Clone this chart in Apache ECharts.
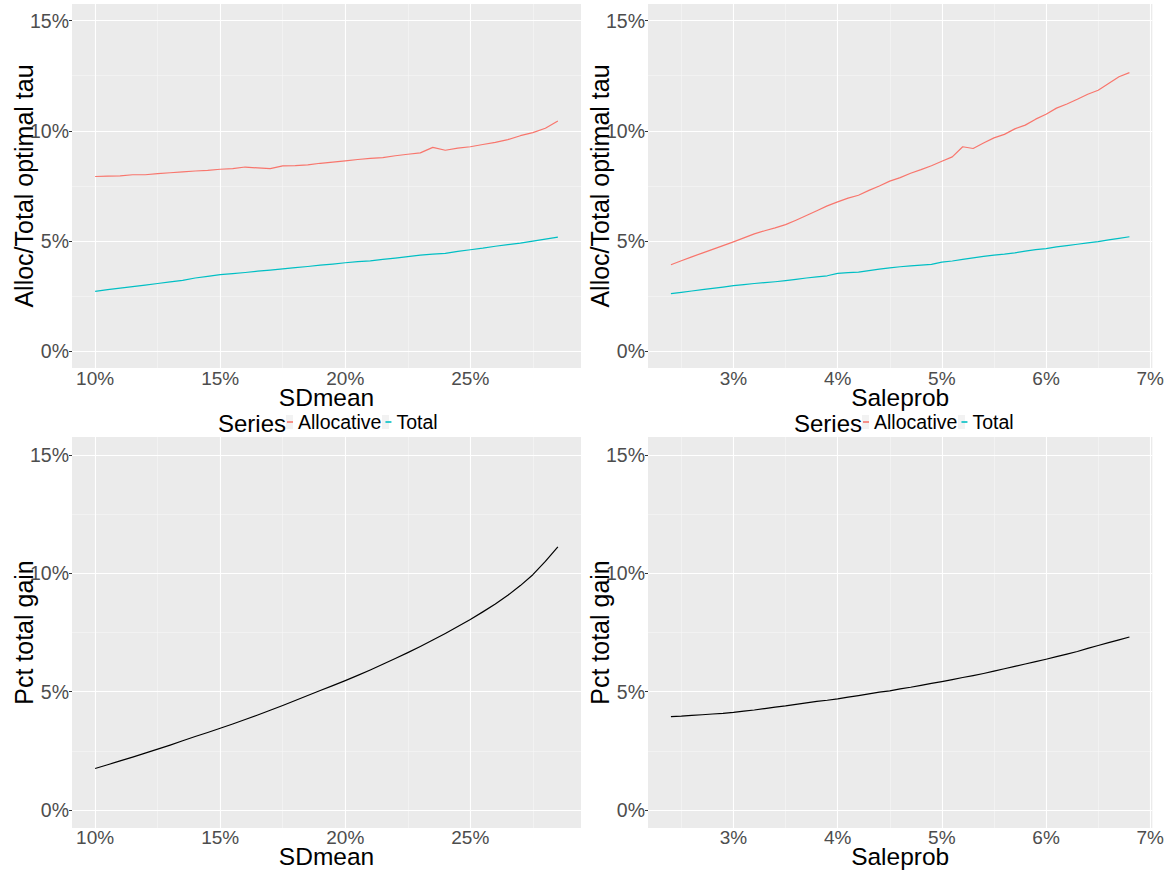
<!DOCTYPE html>
<html>
<head>
<meta charset="utf-8">
<script src="https://cdn.jsdelivr.net/npm/echarts@6/dist/echarts.min.js"></script>
<style>
html,body{margin:0;padding:0;background:#fff;}
#chart{width:1167px;height:871px;}
</style>
</head>
<body>
<div id="chart"></div>
<script>
// ---------- data (values in percent) ----------
const sdX = [10,10.5,11,11.5,12,12.5,13,13.5,14,14.5,15,15.5,16,16.5,17,17.5,18,18.5,19,19.5,20,20.5,21,21.5,22,22.5,23,23.5,24,24.5,25,25.5,26,26.5,27,27.5,28,28.5];
const sdAlloc = [7.93,7.95,7.96,8.01,8.01,8.06,8.10,8.14,8.18,8.21,8.26,8.29,8.36,8.32,8.29,8.41,8.42,8.46,8.53,8.58,8.64,8.70,8.75,8.79,8.87,8.94,9.00,9.25,9.12,9.22,9.28,9.38,9.48,9.60,9.78,9.92,10.12,10.45];
const sdTotal = [2.72,2.80,2.87,2.94,3.01,3.08,3.15,3.22,3.33,3.40,3.48,3.53,3.58,3.64,3.69,3.74,3.80,3.85,3.91,3.96,4.02,4.07,4.11,4.17,4.23,4.30,4.37,4.41,4.45,4.54,4.61,4.68,4.77,4.84,4.91,5.00,5.09,5.18];
const sdGain = [1.76,1.92,2.08,2.24,2.41,2.58,2.75,2.93,3.11,3.28,3.46,3.64,3.83,4.02,4.22,4.42,4.63,4.84,5.05,5.26,5.47,5.69,5.92,6.16,6.40,6.65,6.91,7.18,7.46,7.75,8.05,8.37,8.70,9.07,9.48,9.94,10.50,11.11];

const spX = [2.4,2.5,2.6,2.7,2.8,2.9,3.0,3.1,3.2,3.3,3.4,3.5,3.6,3.7,3.8,3.9,4.0,4.1,4.2,4.3,4.4,4.5,4.6,4.7,4.8,4.9,5.0,5.1,5.2,5.3,5.4,5.5,5.6,5.7,5.8,5.9,6.0,6.1,6.2,6.3,6.4,6.5,6.6,6.7,6.8];
const spAlloc = [3.93,4.11,4.29,4.46,4.63,4.80,4.97,5.15,5.33,5.47,5.60,5.75,5.95,6.16,6.38,6.60,6.78,6.95,7.08,7.30,7.50,7.72,7.88,8.08,8.24,8.42,8.62,8.82,9.28,9.20,9.45,9.68,9.84,10.09,10.26,10.53,10.75,11.03,11.22,11.43,11.66,11.84,12.15,12.45,12.64];
const spTotal = [2.62,2.68,2.74,2.80,2.86,2.92,2.98,3.03,3.08,3.12,3.16,3.21,3.27,3.33,3.38,3.43,3.54,3.57,3.60,3.66,3.73,3.79,3.84,3.88,3.91,3.95,4.05,4.10,4.17,4.24,4.31,4.37,4.41,4.47,4.55,4.62,4.66,4.74,4.80,4.86,4.92,4.98,5.06,5.13,5.20];
const spGain = [3.95,3.97,4.00,4.03,4.06,4.09,4.13,4.18,4.23,4.29,4.35,4.40,4.47,4.53,4.59,4.64,4.70,4.77,4.84,4.91,4.98,5.04,5.12,5.19,5.27,5.35,5.43,5.51,5.60,5.68,5.77,5.87,5.97,6.07,6.17,6.27,6.37,6.48,6.59,6.70,6.83,6.95,7.07,7.19,7.31];

const sdTicks = [10,15,20,25];
const sdMinor = [12.5,17.5,22.5,27.5];
const spTicks = [3,4,5,6,7];
const spMinor = [2.5,3.5,4.5,5.5,6.5];
const yTicks = [0,5,10,15];
const yMinor = [2.5,7.5,12.5];
const yLimits = [0,15];

const seriesNames = ['Allocative','Total'];
const seriesColors = ['#F8766D','#00BFC4'];

// ---------- helpers ----------
const FONT = '"Liberation Sans", Arial, Helvetica, sans-serif';
function expand(lo, hi){ const d=(hi-lo)*0.05; return [lo-d, hi+d]; }
const sdLim = expand(Math.min(...sdX), Math.max(...sdX));
const spLim = expand(Math.min(...spX), Math.max(...spX));
const yLim = expand(yLimits[0], yLimits[1]);
const pairs = (xs, ys) => xs.map((x,i)=>[x, ys[i]]);

const panels = [
  {left:72, top:4, height:364, xLim:sdLim, xt:sdTicks, xm:sdMinor, xname:'SDmean', yname:'Alloc/Total optimal tau', xnameGap:20.5, labMargin:3},
  {left:648, top:4, height:364, xLim:spLim, xt:spTicks, xm:spMinor, xname:'Saleprob', yname:'Alloc/Total optimal tau', xnameGap:20.5, labMargin:3},
  {left:72, top:437, height:391, xLim:sdLim, xt:sdTicks, xm:sdMinor, xname:'SDmean', yname:'Pct total gain', xnameGap:19, labMargin:2},
  {left:648, top:437, height:391, xLim:spLim, xt:spTicks, xm:spMinor, xname:'Saleprob', yname:'Pct total gain', xnameGap:19, labMargin:2}
];

const grid=[], xAxis=[], yAxis=[], series=[];
panels.forEach((p,i)=>{
  grid.push({left:p.left, top:p.top, width:509, height:p.height, show:true, backgroundColor:'#EBEBEB', borderWidth:0, containLabel:false});
  xAxis.push({
    type:'value', gridIndex:i, min:p.xLim[0], max:p.xLim[1],
    axisLine:{show:false}, splitLine:{show:false},
    axisTick:{show:true, length:3, lineStyle:{color:'#333333', width:1}, customValues:p.xt},
    axisLabel:{customValues:p.xt, formatter:v=>v+'%', color:'#4D4D4D', fontSize:19, lineHeight:14, fontFamily:FONT, margin:p.labMargin},
    name:p.xname, nameLocation:'middle', nameGap:p.xnameGap, nameMoveOverlap:false,
    nameTextStyle:{color:'#000', fontSize:24.5, lineHeight:18, fontFamily:FONT}
  });
  yAxis.push({
    type:'value', gridIndex:i, min:yLim[0], max:yLim[1],
    axisLine:{show:false}, splitLine:{show:false},
    axisTick:{show:true, length:3, lineStyle:{color:'#333333', width:1}, customValues:yTicks},
    axisLabel:{customValues:yTicks, formatter:v=>v+'%', color:'#4D4D4D', fontSize:19.5, fontFamily:FONT, margin:3},
    name:p.yname, nameLocation:'middle', nameGap:36, nameMoveOverlap:false,
    nameTextStyle:{color:'#000', fontSize:25, lineHeight:25, fontFamily:FONT}
  });
  const gl = [];
  p.xm.forEach(v=>gl.push({xAxis:v, lineStyle:{color:'#F6F6F6', width:0.6, type:'solid'}}));
  yMinor.forEach(v=>gl.push({yAxis:v, lineStyle:{color:'#F6F6F6', width:0.6, type:'solid'}}));
  p.xt.forEach(v=>gl.push({xAxis:v, lineStyle:{color:'#FFFFFF', width:1.1, type:'solid'}}));
  yTicks.forEach(v=>gl.push({yAxis:v, lineStyle:{color:'#FFFFFF', width:1.1, type:'solid'}}));
  series.push({
    type:'line', xAxisIndex:i, yAxisIndex:i, data:[], silent:true, animation:false,
    markLine:{silent:true, animation:false, symbol:['none','none'], label:{show:false}, emphasis:{disabled:true}, data:gl}
  });
});

function lineSeries(name, idx, data, color){
  return {name, type:'line', xAxisIndex:idx, yAxisIndex:idx, data, showSymbol:false, symbol:'none',
    lineStyle:{color, width:1.2, join:'round'}, itemStyle:{color}, z:10, animation:false, silent:true};
}
series.push(lineSeries(seriesNames[0], 0, pairs(sdX, sdAlloc), seriesColors[0]));
series.push(lineSeries(seriesNames[1], 0, pairs(sdX, sdTotal), seriesColors[1]));
series.push(lineSeries(seriesNames[0], 1, pairs(spX, spAlloc), seriesColors[0]));
series.push(lineSeries(seriesNames[1], 1, pairs(spX, spTotal), seriesColors[1]));
series.push(lineSeries('Pct total gain', 2, pairs(sdX, sdGain), '#000000'));
series.push(lineSeries('Pct total gain ', 3, pairs(spX, spGain), '#000000'));

const legendBase = {data:seriesNames, orient:'horizontal', top:412, itemWidth:6, itemHeight:1.6, itemGap:4, icon:'rect', padding:0, selectedMode:false,
  textStyle:{fontSize:19.5, lineHeight:20, color:'#000', fontFamily:FONT}};

// light-grey key boxes behind legend dashes (ggplot legend.key)
function keyBox(x){ return {type:'rect', shape:{x:x, y:415, width:7, height:14}, style:{fill:'#F2F2F2'}, z:-1}; }

const option = {
  animation:false,
  backgroundColor:'#FFFFFF',
  grid, xAxis, yAxis, series,
  legend:[Object.assign({left:287}, legendBase), Object.assign({left:863}, legendBase)],
  graphic:[
    keyBox(286), keyBox(382), keyBox(862), keyBox(958),
    {type:'text', x:218, y:423, style:{text:'Series', fill:'#000', font:'24px '+FONT, verticalAlign:'middle', align:'left'}},
    {type:'text', x:794, y:423, style:{text:'Series', fill:'#000', font:'24px '+FONT, verticalAlign:'middle', align:'left'}}
  ]
};

const chart = echarts.init(document.getElementById('chart'), null, {renderer:'svg'});
chart.setOption(option);
</script>
</body>
</html>
